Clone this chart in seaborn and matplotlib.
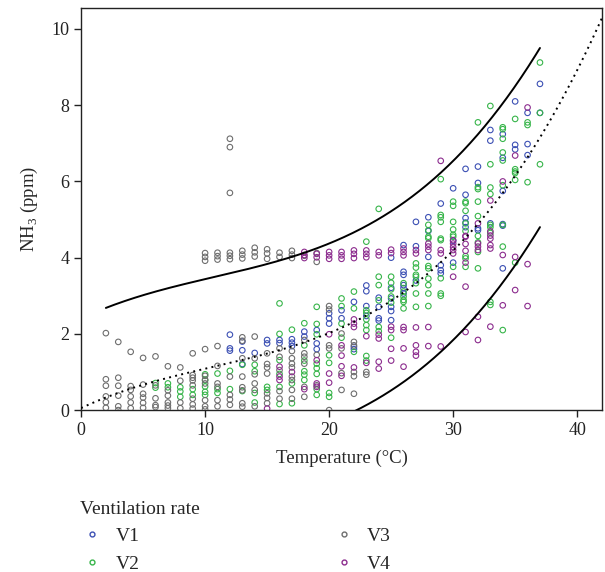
import numpy as np
import pandas as pd
import seaborn as sns
import matplotlib.pyplot as plt
from matplotlib.lines import Line2D

# NH3 (ppm) x Temperatura, por taxa de ventilacao
v1_temp = ([12]*3 + [13]*3 + [14] + [15]*2 + [16]*2 + [17]*3 + [18]*2 + [19]*3 + [20]*3 + [21]*2
           + [22]*3 + [23]*4 + [24]*4 + [25]*6 + [26]*6 + [27]*3 + [28]*3 + [29]*4 + [30]*3
           + [31]*5 + [32]*4 + [33]*3 + [34]*6 + [35]*3 + [36]*3 + [37]*2)
v1_nh3 = [1.98, 1.62, 1.56,  1.80, 1.57, 1.21,  1.50,  1.84, 1.75,  1.84, 1.76,
          1.86, 1.77, 1.68,  2.06, 1.93,  2.10, 1.75, 1.60,  2.54, 2.41, 2.27,  2.62, 2.41,
          2.84, 1.66, 1.60,  3.27, 3.12, 2.73, 2.47,  2.95, 2.71, 2.41, 2.35,
          4.00, 3.21, 2.93, 2.71, 2.60, 2.36,  4.33, 3.63, 3.55, 3.28, 3.20, 3.06,
          4.94, 4.30, 3.40,  5.06, 4.70, 4.02,  5.42, 3.80, 3.67, 3.59,  5.82, 4.44, 3.87,
          6.33, 5.65, 5.04, 4.92, 4.80,  6.39, 5.96, 4.77, 4.72,  7.35, 7.07, 4.90,
          7.24, 6.62, 5.75, 4.88, 4.84, 3.72,  8.10, 6.96, 6.84,  7.80, 6.98, 6.69,  8.56, 7.80]

v2_temp = ([6]*2 + [7]*2 + [8]*3 + [9]*2 + [10]*5 + [11]*3 + [12]*2 + [13]*2 + [14]*4 + [15]*2
           + [16]*6 + [17]*3 + [18]*6 + [19]*8 + [20]*4 + [21]*4 + [22]*3 + [23]*8 + [24]*6
           + [25]*6 + [26]*6 + [27]*7 + [28]*10 + [29]*9 + [30]*7 + [31]*8 + [32]*9 + [33]*9
           + [34]*9 + [35]*6 + [36]*3 + [37]*3)
v2_nh3 = [0.71, 0.59,  0.70, 0.60,  0.60, 0.49, 0.35,  0.55, 0.40,  0.94, 0.78, 0.62, 0.48, 0.40,
          0.96, 0.55, 0.45,  1.03, 0.55,  1.19, 0.50,  1.19, 1.02, 0.45, 0.20,  0.61, 0.53,
          2.80, 2.00, 1.31, 0.95, 0.61, 0.16,  2.11, 0.70, 0.18,  2.28, 1.70, 1.30, 1.02, 0.93, 0.79,
          2.71, 2.26, 1.99, 1.22, 1.10, 0.95, 0.55, 0.40,  1.44, 1.24, 0.45, 0.35,
          2.93, 2.73, 2.27, 1.90,  3.11, 2.67, 1.53,  4.42, 2.62, 2.55, 2.38, 2.23, 2.10, 1.42, 1.30,
          5.28, 3.50, 3.28, 2.88, 2.18, 2.07,  3.50, 3.34, 3.17, 2.98, 2.82, 1.90,
          3.33, 3.11, 2.98, 2.89, 2.84, 2.67,  3.85, 3.74, 3.55, 3.50, 3.33, 3.06, 2.71,
          4.86, 4.72, 4.55, 4.51, 3.78, 3.72, 3.45, 3.28, 3.06, 2.73,
          6.06, 5.12, 5.06, 4.94, 4.50, 4.46, 3.46, 3.06, 3.00,
          5.47, 5.36, 4.94, 4.74, 4.60, 4.55, 3.76,  5.47, 5.43, 5.23, 4.90, 4.70, 4.04, 3.98, 3.76,
          7.55, 5.85, 5.80, 5.47, 5.09, 4.57, 4.40, 4.15, 3.72,
          7.98, 6.45, 5.84, 5.67, 4.86, 4.80, 4.65, 2.84, 2.76,
          7.42, 7.37, 7.12, 6.76, 6.55, 5.90, 4.86, 4.29, 2.10,
          7.64, 6.32, 6.26, 6.22, 6.04, 3.87,  7.55, 7.48, 5.98,  9.12, 7.80, 6.45]

v3_temp = ([2]*6 + [3]*6 + [4]*6 + [5]*6 + [6]*5 + [7]*6 + [8]*4 + [9]*8 + [10]*10 + [11]*9
           + [12]*10 + [13]*11 + [14]*9 + [15]*10 + [16]*7 + [17]*11 + [18]*7 + [19]*4
           + [20]*5 + [21]*4 + [22]*5 + [23]*2)
v3_nh3 = [2.02, 0.81, 0.64, 0.36, 0.21, 0.06,  1.79, 0.85, 0.64, 0.38, 0.10, 0.00,
          1.53, 0.63, 0.53, 0.36, 0.20, 0.05,  1.37, 0.67, 0.43, 0.33, 0.19, 0.06,
          1.41, 0.65, 0.31, 0.13, 0.08,  1.15, 0.52, 0.38, 0.20, 0.12, 0.05,  1.12, 0.77, 0.20, 0.05,
          1.49, 0.92, 0.85, 0.78, 0.65, 0.30, 0.15, 0.04,
          4.12, 4.02, 3.92, 1.60, 0.90, 0.80, 0.70, 0.26, 0.10, 0.02,
          4.13, 4.04, 3.95, 1.68, 1.16, 0.70, 0.61, 0.26, 0.10,
          7.12, 6.90, 5.70, 4.13, 4.05, 3.96, 0.88, 0.40, 0.28, 0.14,
          4.18, 4.08, 3.98, 1.91, 1.82, 1.36, 0.88, 0.60, 0.52, 0.18, 0.09,
          4.26, 4.14, 4.03, 1.93, 1.36, 0.94, 0.70, 0.53, 0.10,
          4.22, 4.11, 3.97, 1.49, 1.21, 1.12, 0.96, 0.44, 0.32, 0.18,
          4.13, 4.02, 1.62, 1.40, 1.05, 0.50, 0.30,
          4.18, 4.08, 3.99, 1.55, 1.36, 1.22, 1.12, 0.88, 0.79, 0.53, 0.30,
          4.05, 1.84, 1.49, 1.40, 1.22, 0.61, 0.35,  4.12, 3.89, 1.45, 0.65,
          2.73, 2.64, 1.70, 1.62, 0.00,  2.01, 1.62, 0.97, 0.53,  1.79, 1.70, 1.00, 0.89, 0.43,
          1.00, 0.93]

v4_temp = ([15] + [16]*3 + [17] + [18]*4 + [19]*5 + [20]*6 + [21]*7 + [22]*7 + [23]*5 + [24]*6
           + [25]*6 + [26]*7 + [27]*6 + [28]*5 + [29]*4 + [30]*6 + [31]*7 + [32]*6 + [33]*7
           + [34]*3 + [35]*3 + [36]*3)
v4_nh3 = [0.04,  1.14, 0.88, 0.79,  1.00,  4.15, 4.07, 3.99, 0.55,  4.10, 4.01, 1.31, 0.70, 0.61,
          4.15, 4.06, 3.97, 1.99, 0.96, 0.72,  4.15, 4.06, 3.97, 1.70, 1.43, 1.15, 0.90,
          4.19, 4.10, 3.99, 2.38, 2.27, 2.18, 1.12,  4.19, 4.10, 4.01, 1.94, 1.24,
          4.15, 4.06, 1.98, 1.88, 1.27, 1.09,  4.21, 4.12, 2.19, 2.10, 1.61, 1.30,
          4.24, 4.15, 4.06, 2.18, 2.10, 1.62, 1.14,  4.20, 4.11, 2.17, 1.70, 1.53, 1.43,
          4.37, 4.29, 4.20, 2.18, 1.68,  6.54, 4.20, 4.11, 1.67,
          4.46, 4.37, 4.28, 4.20, 4.11, 3.50,  4.57, 4.55, 4.36, 4.18, 3.87, 3.24, 2.05,
          4.90, 4.37, 4.29, 4.20, 2.45, 1.84,  5.50, 4.69, 4.58, 4.50, 4.33, 4.24, 2.19,
          6.00, 4.07, 2.75,  6.68, 4.02, 3.15,  7.94, 3.83, 2.73]

grupos = ['V1', 'V2', 'V3', 'V4']
cores = ['#3c50b4', '#37b54a', '#6e6e6e', '#8c2c8e']

curva_temp = [0, 10, 20, 30, 35, 38.8, 42]
curva_nh3 = [0.05, 1.1, 2.0, 4.2, 6.17, 8.14, 10.3]
meia_faixa = 2.35

df = pd.concat([
    pd.DataFrame({'Temperatura': v1_temp, 'NH3': v1_nh3, 'Ventilacao': 'V1'}),
    pd.DataFrame({'Temperatura': v2_temp, 'NH3': v2_nh3, 'Ventilacao': 'V2'}),
    pd.DataFrame({'Temperatura': v3_temp, 'NH3': v3_nh3, 'Ventilacao': 'V3'}),
    pd.DataFrame({'Temperatura': v4_temp, 'NH3': v4_nh3, 'Ventilacao': 'V4'}),
], ignore_index=True)

sns.set_style('ticks')
plt.rcParams['font.family'] = ['Liberation Serif', 'DejaVu Serif']
plt.rcParams['mathtext.fontset'] = 'custom'
plt.rcParams['mathtext.rm'] = 'Liberation Serif'

fig = plt.figure(figsize=(6.05, 5.72), dpi=100)
ax = fig.add_axes([0.134, 0.283, 0.861, 0.703])

sns.scatterplot(data=df, x='Temperatura', y='NH3', hue='Ventilacao', hue_order=grupos,
                palette=cores, s=16, linewidth=0.8, legend=False, ax=ax, zorder=3)
# circulos vazados
pc = ax.collections[0]
fc = pc.get_facecolors()
pc.set_edgecolors(fc)
pc.set_facecolors('none')

# ajuste e faixa
coef = np.polyfit(curva_temp, curva_nh3, 3)
tt = np.linspace(0, 42, 300)
sns.lineplot(x=tt, y=np.polyval(coef, tt), color='black', linestyle=(0, (1, 2.2)),
             linewidth=1.4, ax=ax, zorder=4)
tb = np.linspace(2, 37, 300)
sns.lineplot(x=tb, y=np.polyval(coef, tb) + meia_faixa, color='black', linewidth=1.4, ax=ax, zorder=4)
sns.lineplot(x=tb, y=np.polyval(coef, tb) - meia_faixa, color='black', linewidth=1.4, ax=ax, zorder=4)

ax.set_xlim(0, 42)
ax.set_ylim(0, 10.55)
ax.set_xticks([0, 10, 20, 30, 40])
ax.set_yticks([0, 2, 4, 6, 8, 10])
for s in ax.spines.values():
    s.set_visible(True)
    s.set_color('#222222')
    s.set_linewidth(1.0)
ax.tick_params(direction='out', length=5, width=1, labelsize=13, colors='#222222')
ax.set_xlabel('Temperature (°C)', fontsize=13.5, labelpad=8)
ax.set_ylabel('NH$_3$ (ppm)', fontsize=13.5, labelpad=8)

handles = [Line2D([], [], linestyle='none', marker='o', markersize=3.5, markerfacecolor='none',
                  markeredgecolor=c, markeredgewidth=1.0) for c in cores]
leg = fig.legend(handles, grupos, title='Ventilation rate', loc='upper left',
                 bbox_to_anchor=(0.104, 0.155), ncol=2, frameon=False, fontsize=14,
                 title_fontsize=14, columnspacing=9.9, handletextpad=0.6,
                 handlelength=1.2, labelspacing=0.5)
leg._legend_box.align = 'left'

fig.savefig('out.png', dpi=100)
